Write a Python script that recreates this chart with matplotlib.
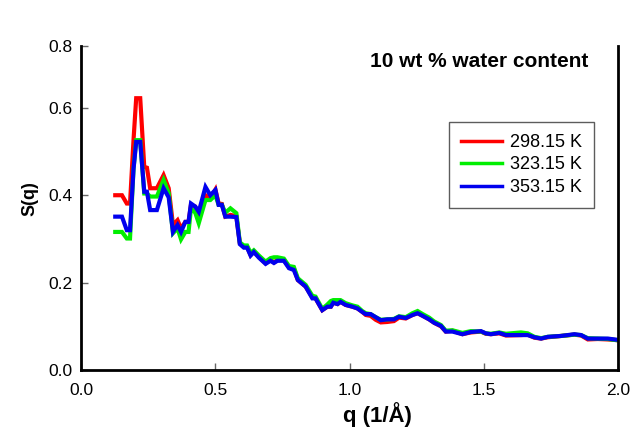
import matplotlib
matplotlib.use("Agg")
import matplotlib.pyplot as plt

q = [0.127, 0.152, 0.170, 0.182, 0.195, 0.205, 0.220, 0.235, 0.245, 0.257, 0.282, 0.307, 0.326, 0.342, 0.359,
     0.372, 0.388, 0.400, 0.409, 0.425, 0.438, 0.463, 0.481, 0.500, 0.512, 0.524, 0.537, 0.556, 0.578, 0.591,
     0.606, 0.618, 0.631, 0.643, 0.662, 0.687, 0.705, 0.718, 0.731, 0.755, 0.774, 0.792, 0.807, 0.836, 0.861,
     0.873, 0.898, 0.917, 0.930, 0.939, 0.955, 0.966, 0.985, 1.010, 1.029, 1.047, 1.060, 1.078, 1.097, 1.116,
     1.140, 1.165, 1.184, 1.209, 1.234, 1.253, 1.272, 1.296, 1.315, 1.340, 1.358, 1.383, 1.420, 1.451, 1.489,
     1.507, 1.526, 1.557, 1.582, 1.638, 1.663, 1.688, 1.713, 1.738, 1.787, 1.837, 1.862, 1.887, 1.924, 1.962,
     1.986, 2.000]

s_298 = [0.400, 0.400, 0.381, 0.381, 0.526, 0.622, 0.622, 0.465, 0.463, 0.416, 0.416, 0.446, 0.416, 0.332, 0.343,
         0.324, 0.339, 0.339, 0.378, 0.374, 0.355, 0.400, 0.393, 0.413, 0.381, 0.380, 0.351, 0.355, 0.352, 0.290,
         0.282, 0.282, 0.263, 0.271, 0.259, 0.244, 0.252, 0.246, 0.252, 0.252, 0.235, 0.233, 0.206, 0.191, 0.166,
         0.164, 0.137, 0.145, 0.145, 0.154, 0.151, 0.156, 0.149, 0.145, 0.141, 0.133, 0.126, 0.124, 0.115, 0.109,
         0.110, 0.112, 0.120, 0.118, 0.126, 0.130, 0.124, 0.116, 0.108, 0.100, 0.088, 0.090, 0.082, 0.086, 0.088,
         0.083, 0.082, 0.084, 0.079, 0.080, 0.081, 0.074, 0.072, 0.075, 0.078, 0.081, 0.079, 0.070, 0.071, 0.070,
         0.069, 0.068]

s_323 = [0.316, 0.316, 0.301, 0.301, 0.460, 0.526, 0.526, 0.404, 0.404, 0.397, 0.397, 0.435, 0.405, 0.313, 0.324,
         0.299, 0.316, 0.316, 0.370, 0.360, 0.336, 0.389, 0.389, 0.400, 0.378, 0.378, 0.360, 0.370, 0.359, 0.292,
         0.285, 0.285, 0.268, 0.274, 0.262, 0.248, 0.256, 0.258, 0.258, 0.255, 0.238, 0.236, 0.210, 0.195, 0.170,
         0.168, 0.140, 0.150, 0.158, 0.160, 0.160, 0.160, 0.153, 0.148, 0.145, 0.135, 0.130, 0.128, 0.121, 0.115,
         0.116, 0.117, 0.123, 0.121, 0.130, 0.135, 0.128, 0.120, 0.111, 0.103, 0.090, 0.091, 0.085, 0.089, 0.088,
         0.084, 0.083, 0.086, 0.083, 0.086, 0.084, 0.076, 0.073, 0.076, 0.078, 0.081, 0.080, 0.073, 0.072, 0.071,
         0.069, 0.068]

s_353 = [0.351, 0.351, 0.320, 0.320, 0.460, 0.522, 0.522, 0.408, 0.408, 0.366, 0.366, 0.416, 0.395, 0.316, 0.332,
         0.316, 0.339, 0.339, 0.381, 0.374, 0.362, 0.419, 0.400, 0.412, 0.378, 0.378, 0.351, 0.351, 0.350, 0.288,
         0.280, 0.280, 0.262, 0.270, 0.257, 0.243, 0.250, 0.245, 0.250, 0.250, 0.233, 0.229, 0.206, 0.191, 0.164,
         0.164, 0.137, 0.145, 0.145, 0.154, 0.151, 0.156, 0.149, 0.145, 0.141, 0.133, 0.128, 0.128, 0.121, 0.114,
         0.116, 0.116, 0.122, 0.119, 0.126, 0.130, 0.124, 0.116, 0.108, 0.101, 0.088, 0.088, 0.082, 0.087, 0.089,
         0.084, 0.082, 0.085, 0.080, 0.080, 0.080, 0.075, 0.072, 0.076, 0.078, 0.082, 0.080, 0.072, 0.072, 0.072,
         0.070, 0.069]

labels = ["298.15 K", "323.15 K", "353.15 K"]
colors = ["#ff0000", "#00ee00", "#0000ee"]
x_ticks = [0.0, 0.5, 1.0, 1.5, 2.0]
x_tick_labels = ["0.0", "0.5", "1.0", "1.5", "2.0"]
y_ticks = [0.0, 0.2, 0.4, 0.6, 0.741]
y_tick_labels = ["0.0", "0.2", "0.4", "0.6", "0.8"]

plt.rcParams["font.family"] = ["Liberation Sans", "DejaVu Sans"]

fig = plt.figure(figsize=(6.34, 4.4), dpi=100)
ax = fig.add_axes([0.128, 0.159, 0.847, 0.736])

for s, lab, c in zip([s_298, s_323, s_353], labels, colors):
    ax.plot(q, s, color=c, lw=3.0, label=lab, solid_joinstyle="miter")

ax.set_xlim(0, 2.0)
ax.set_ylim(0, 0.741)
ax.set_xticks(x_ticks)
ax.set_xticklabels(x_tick_labels)
ax.set_yticks(y_ticks)
ax.set_yticklabels(y_tick_labels)
ax.tick_params(direction="in", length=5, width=1, color="#666666", labelsize=12.5)
ax.tick_params(axis="x", pad=9)
ax.tick_params(axis="y", pad=6)
ax.spines["top"].set_visible(False)
for sp in ["left", "bottom", "right"]:
    ax.spines[sp].set_linewidth(2.0)
    ax.spines[sp].set_color("black")

ax.set_xlabel("q (1/Å)", fontsize=16, fontweight="bold", va="top")
ax.xaxis.set_label_coords(0.551, -0.098)
ax.set_ylabel("S(q)", fontsize=13, fontweight="bold")
ax.yaxis.set_label_coords(-0.080, 0.53)

ax.text(0.944, 0.953, "10 wt % water content", transform=ax.transAxes, ha="right", va="center",
        fontsize=15, fontweight="bold")

leg = ax.legend(loc="upper left", bbox_to_anchor=(0.685, 0.765), fontsize=13, frameon=True,
                fancybox=False, edgecolor="#333333", handlelength=2.3, handletextpad=0.45,
                labelspacing=0.3, borderpad=0.65, borderaxespad=0)
leg.get_frame().set_linewidth(1.0)
for line in leg.get_lines():
    line.set_linewidth(2.5)

fig.savefig("out.png", dpi=100)
